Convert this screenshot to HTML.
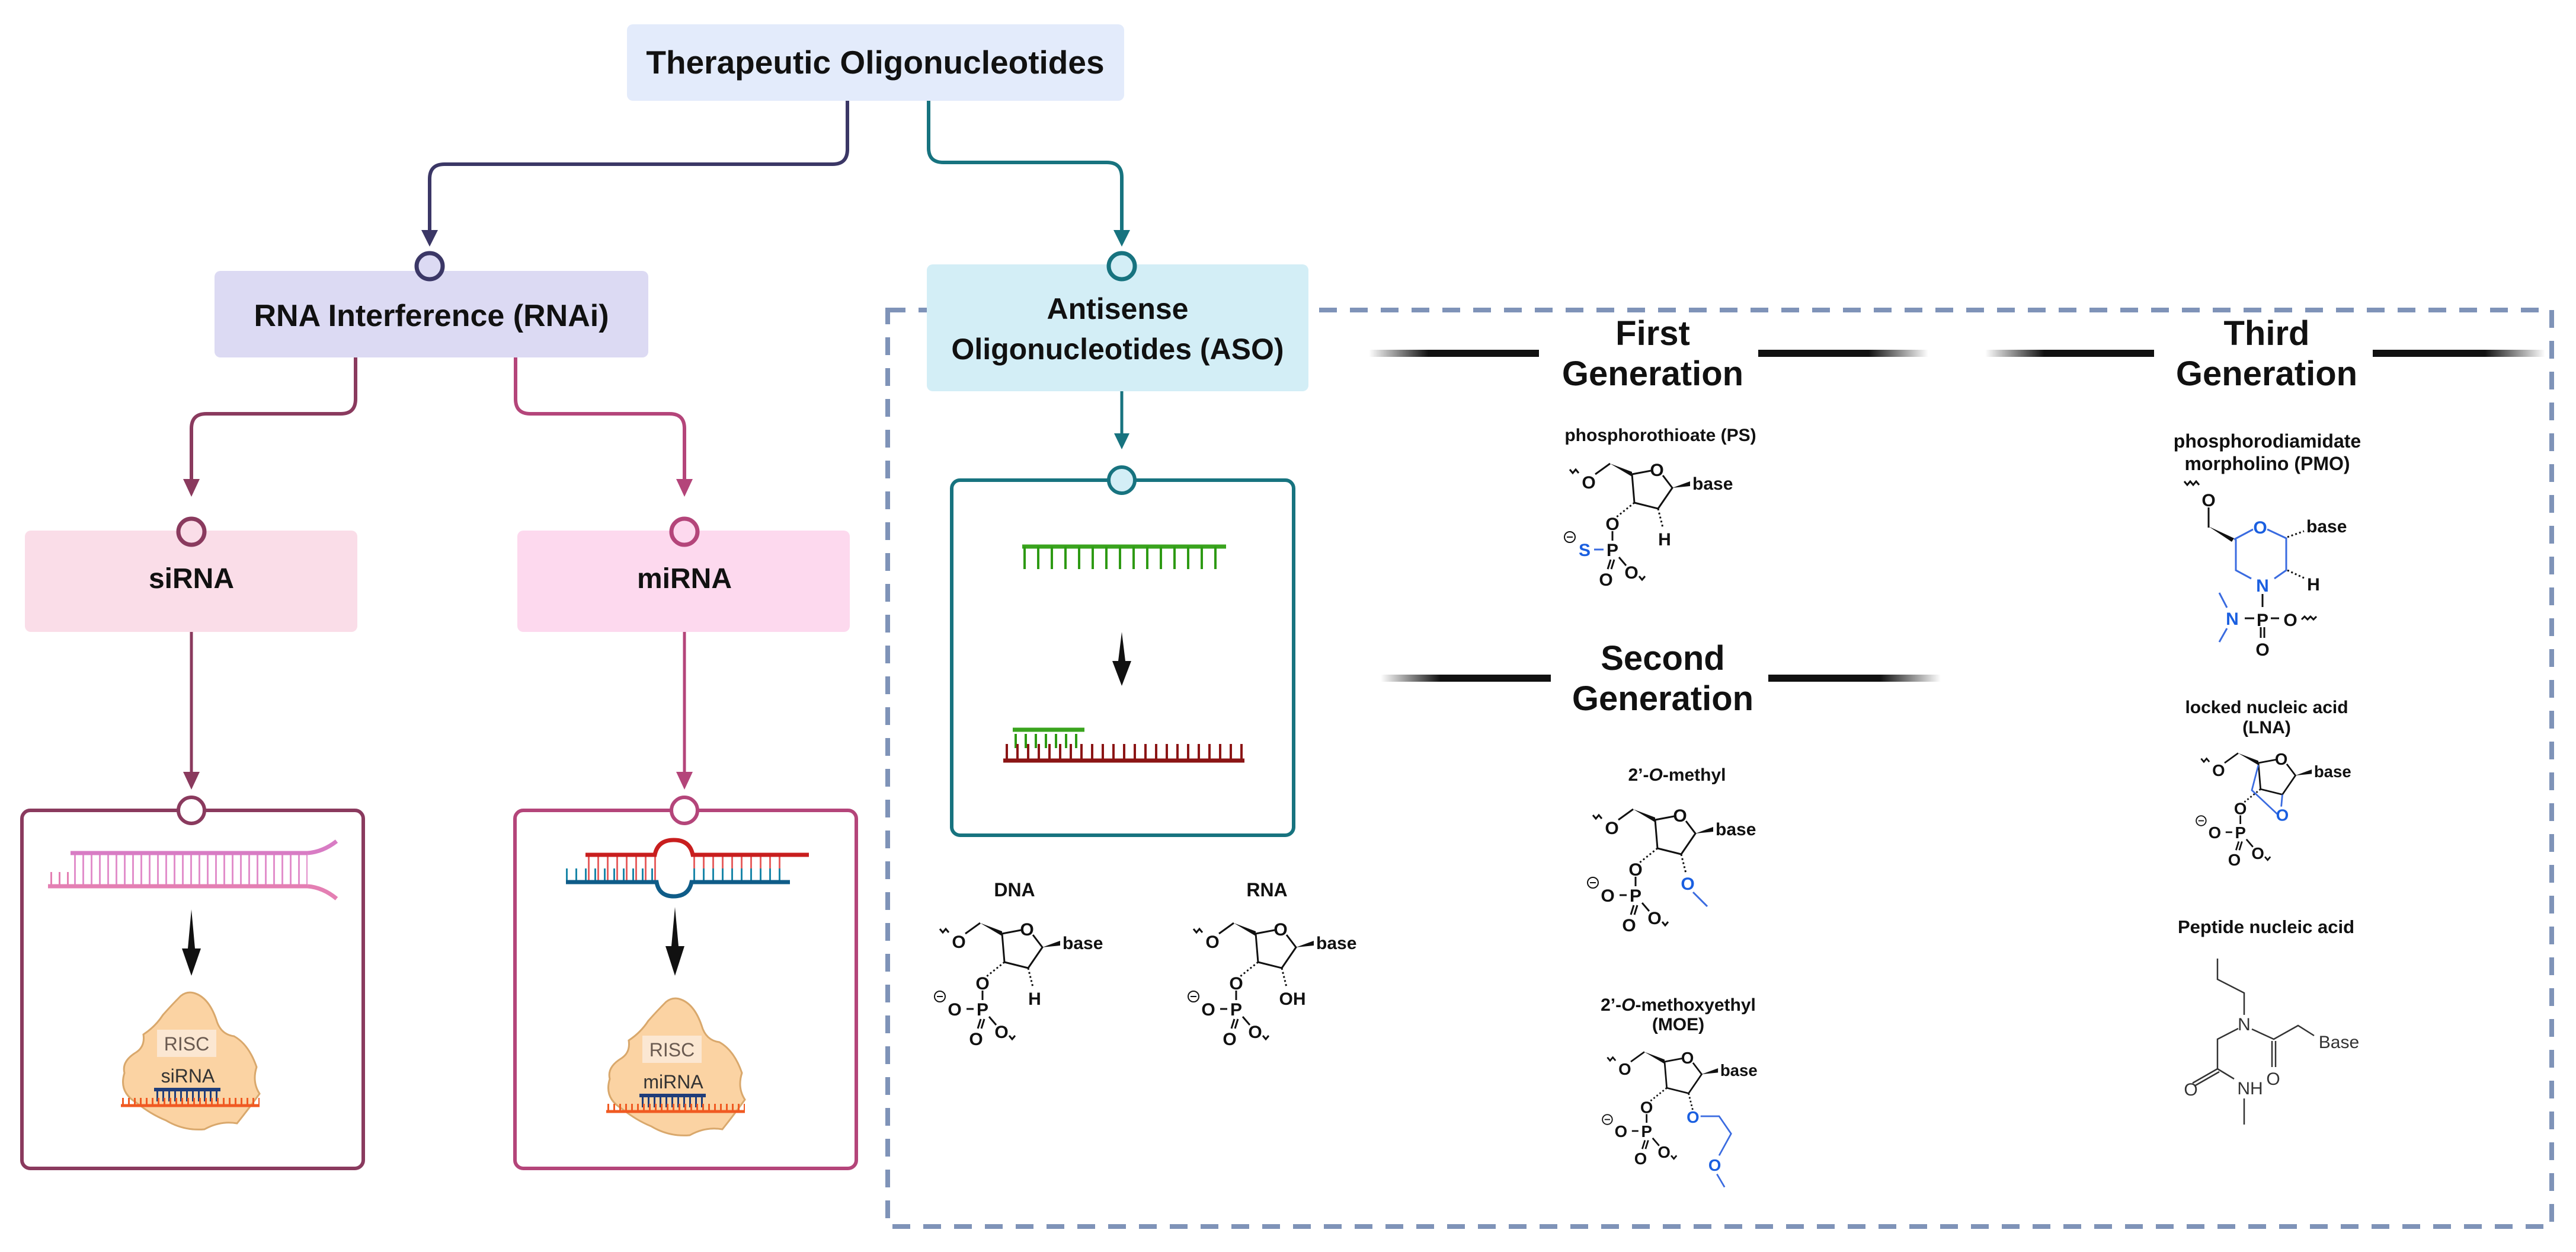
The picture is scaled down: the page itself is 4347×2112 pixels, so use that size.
<!DOCTYPE html>
<html><head><meta charset="utf-8"><style>
html,body{margin:0;padding:0;background:#fff;}
svg{display:block;}
text{font-family:"Liberation Sans",sans-serif;}
.t{font-weight:bold;fill:#111;}
.at{font-weight:bold;font-size:30px;fill:#111;text-anchor:middle;}
.bl{fill:#1a5fe0;}
.bd{stroke:#111;stroke-width:3;fill:none;}
.bb{stroke:#3a6be0;stroke-width:3;fill:none;}
</style></head><body>
<svg width="4347" height="2112" viewBox="0 0 4347 2112" xmlns="http://www.w3.org/2000/svg">
<defs>
<linearGradient id="gl" x1="0" x2="1" y1="0" y2="0"><stop offset="0" stop-color="#111" stop-opacity="0"/><stop offset="0.35" stop-color="#111"/><stop offset="1" stop-color="#111"/></linearGradient>
<linearGradient id="gr" x1="0" x2="1" y1="0" y2="0"><stop offset="0" stop-color="#111"/><stop offset="0.65" stop-color="#111"/><stop offset="1" stop-color="#111" stop-opacity="0"/></linearGradient>
</defs>

<rect x="1498" y="523" width="2808" height="1546" fill="none" stroke="#7f93b8" stroke-width="8" stroke-dasharray="30 22"/>

<rect x="1058" y="41" width="839" height="129" rx="10" fill="#e3ebfb"/>
<text x="1477" y="124" class="t" font-size="55" text-anchor="middle">Therapeutic Oligonucleotides</text>

<path d="M1430 170 V252 Q1430 277 1405 277 H750 Q725 277 725 302 V392" stroke="#3b3766" stroke-width="6" fill="none"/>
<polygon points="711,388 739,388 725,416" fill="#3b3766"/>
<path d="M1567 170 V250 Q1567 274 1592 274 H1868 Q1893 274 1893 299 V392" stroke="#17737f" stroke-width="6" fill="none"/>
<polygon points="1879,388 1907,388 1893,416" fill="#17737f"/>

<rect x="362" y="457" width="732" height="146" rx="10" fill="#dcdaf3"/>
<circle cx="725" cy="449" r="22" fill="#dcdaf3" stroke="#3b3766" stroke-width="7"/>
<text x="728" y="550" class="t" font-size="52" text-anchor="middle">RNA Interference (RNAi)</text>

<rect x="1564" y="446" width="644" height="214" rx="10" fill="#d3eef6"/>
<circle cx="1893" cy="449" r="22" fill="#d3eef6" stroke="#17737f" stroke-width="7"/>
<text x="1886" y="538" class="t" font-size="50" text-anchor="middle">Antisense</text>
<text x="1886" y="606" class="t" font-size="50" text-anchor="middle">Oligonucleotides (ASO)</text>

<path d="M600 603 V673 Q600 698 575 698 H348 Q323 698 323 723 V812" stroke="#8a3a5e" stroke-width="6" fill="none"/>
<polygon points="309,808 337,808 323,838" fill="#8a3a5e"/>
<path d="M870 603 V673 Q870 698 895 698 H1130 Q1155 698 1155 723 V812" stroke="#b4457a" stroke-width="6" fill="none"/>
<polygon points="1141,808 1169,808 1155,838" fill="#b4457a"/>

<rect x="42" y="895" width="561" height="171" rx="10" fill="#fadde8"/>
<circle cx="323" cy="897" r="22" fill="#fadde8" stroke="#8a3a5e" stroke-width="7"/>
<text x="323" y="992" class="t" font-size="48" text-anchor="middle">siRNA</text>
<rect x="873" y="895" width="561" height="171" rx="10" fill="#fdd9ee"/>
<circle cx="1155" cy="897" r="22" fill="#fdd9ee" stroke="#b4457a" stroke-width="7"/>
<text x="1155" y="992" class="t" font-size="48" text-anchor="middle">miRNA</text>

<line x1="323" y1="1066" x2="323" y2="1306" stroke="#8a3a5e" stroke-width="5"/>
<polygon points="309,1302 337,1302 323,1332" fill="#8a3a5e"/>
<line x1="1155" y1="1066" x2="1155" y2="1306" stroke="#b4457a" stroke-width="5"/>
<polygon points="1141,1302 1169,1302 1155,1332" fill="#b4457a"/>

<rect x="37" y="1367" width="576" height="604" rx="14" fill="#fff" stroke="#8a3a5e" stroke-width="6"/>
<circle cx="323" cy="1367" r="22" fill="#fff" stroke="#8a3a5e" stroke-width="6"/>
<rect x="869" y="1367" width="576" height="604" rx="14" fill="#fff" stroke="#b4457a" stroke-width="6"/>
<circle cx="1155" cy="1367" r="22" fill="#fff" stroke="#b4457a" stroke-width="6"/>

<line x1="125" y1="1467" x2="519" y2="1467" stroke="#e28fcb" stroke-width="54" stroke-dasharray="3 11"/>
<line x1="119" y1="1439" x2="519" y2="1439" stroke="#d87cc4" stroke-width="7"/>
<line x1="81" y1="1495" x2="519" y2="1495" stroke="#e47fb3" stroke-width="7"/>
<path d="M519 1439 Q545 1437 568 1419" stroke="#d87cc4" stroke-width="7" fill="none"/>
<path d="M519 1495 Q545 1497 568 1516" stroke="#e47fb3" stroke-width="7" fill="none"/>
<line x1="85" y1="1483" x2="119" y2="1483" stroke="#e47fb3" stroke-width="24" stroke-dasharray="3 11"/>
<polygon points="323,1534 329,1600 339,1600 323,1646 307,1600 317,1600" fill="#111"/>
<path d="M327 1675 Q352 1682 365 1720 Q372 1745 395 1748 Q420 1762 433 1800 Q425 1825 438 1845 Q420 1870 400 1895 Q372 1890 345 1905 Q310 1908 280 1890 Q255 1880 230 1860 Q200 1842 210 1810 Q205 1790 230 1775 Q245 1765 242 1745 Q262 1732 275 1712 Q290 1695 305 1680 Q315 1672 327 1675 Z" fill="#fbd3a3" stroke="#d9a86c" stroke-width="3"/>
<rect x="265" y="1737" width="100" height="46" fill="#fbe7d2"/>
<text x="315" y="1772" font-size="32" fill="#6a5a50" text-anchor="middle">RISC</text>
<text x="317" y="1826" font-size="32" fill="#333" text-anchor="middle">siRNA</text>
<line x1="260" y1="1838" x2="372" y2="1838" stroke="#1f3d7a" stroke-width="6"/>
<line x1="264" y1="1849" x2="372" y2="1849" stroke="#1f3d7a" stroke-width="18" stroke-dasharray="3 7"/>
<line x1="206" y1="1858" x2="438" y2="1858" stroke="#f05a22" stroke-width="12" stroke-dasharray="3 7"/>
<line x1="204" y1="1865" x2="438" y2="1865" stroke="#f05a22" stroke-width="5"/>

<line x1="992" y1="1465" x2="1107" y2="1465" stroke="#e66060" stroke-width="44" stroke-dasharray="3 13"/>
<line x1="1170" y1="1465" x2="1330" y2="1465" stroke="#e66060" stroke-width="44" stroke-dasharray="3 13"/>
<line x1="955" y1="1476" x2="1107" y2="1476" stroke="#1a86a8" stroke-width="22" stroke-dasharray="3 13"/>
<line x1="1170" y1="1476" x2="1330" y2="1476" stroke="#1a86a8" stroke-width="22" stroke-dasharray="3 13"/>
<path d="M988 1442 H1105 Q1110 1417 1137 1417 Q1164 1417 1169 1442 H1365" stroke="#c81e1e" stroke-width="7" fill="none"/>
<path d="M955 1488 H1108 Q1112 1512 1137 1512 Q1162 1512 1167 1488 H1333" stroke="#0f5c88" stroke-width="7" fill="none"/>
<polygon points="1139,1530 1145,1596 1155,1596 1139,1646 1123,1596 1133,1596" fill="#111"/>
<g transform="translate(819,10)">
<path d="M327 1675 Q352 1682 365 1720 Q372 1745 395 1748 Q420 1762 433 1800 Q425 1825 438 1845 Q420 1870 400 1895 Q372 1890 345 1905 Q310 1908 280 1890 Q255 1880 230 1860 Q200 1842 210 1810 Q205 1790 230 1775 Q245 1765 242 1745 Q262 1732 275 1712 Q290 1695 305 1680 Q315 1672 327 1675 Z" fill="#fbd3a3" stroke="#d9a86c" stroke-width="3"/>
<rect x="265" y="1737" width="100" height="46" fill="#fbe7d2"/>
<text x="315" y="1772" font-size="32" fill="#6a5a50" text-anchor="middle">RISC</text>
<text x="317" y="1826" font-size="32" fill="#333" text-anchor="middle">miRNA</text>
<line x1="260" y1="1838" x2="372" y2="1838" stroke="#1f3d7a" stroke-width="6"/>
<line x1="264" y1="1849" x2="372" y2="1849" stroke="#1f3d7a" stroke-width="18" stroke-dasharray="3 7"/>
<line x1="206" y1="1858" x2="438" y2="1858" stroke="#f05a22" stroke-width="12" stroke-dasharray="3 7"/>
<line x1="204" y1="1865" x2="438" y2="1865" stroke="#f05a22" stroke-width="5"/>
</g>

<line x1="1893" y1="660" x2="1893" y2="735" stroke="#17737f" stroke-width="5"/>
<polygon points="1880,731 1906,731 1893,758" fill="#17737f"/>
<rect x="1606" y="810" width="577" height="599" rx="14" fill="#fff" stroke="#17737f" stroke-width="6"/>
<circle cx="1893" cy="810" r="22" fill="#d3eef6" stroke="#17737f" stroke-width="6"/>
<line x1="1725" y1="922" x2="2069" y2="922" stroke="#3aa41e" stroke-width="7"/>
<line x1="1727" y1="941" x2="2069" y2="941" stroke="#2e9a14" stroke-width="38" stroke-dasharray="4 19"/>
<polygon points="1893,1066 1899,1115 1909,1115 1893,1157 1877,1115 1887,1115" fill="#111"/>
<line x1="1709" y1="1231" x2="1830" y2="1231" stroke="#3aa41e" stroke-width="7"/>
<line x1="1712" y1="1250" x2="1830" y2="1250" stroke="#2e9a14" stroke-width="24" stroke-dasharray="4 13"/>
<line x1="1697" y1="1268" x2="2100" y2="1268" stroke="#8b1515" stroke-width="26" stroke-dasharray="4 14"/>
<line x1="1693" y1="1283" x2="2100" y2="1283" stroke="#8b1515" stroke-width="7"/>

<text x="1712" y="1512" class="t" font-size="32" text-anchor="middle">DNA</text>
<text x="2138" y="1512" class="t" font-size="32" text-anchor="middle">RNA</text>

<g transform="translate(1691,1575)">
<path class="bd" d="M-105 -8 l5 6 l5 -6 l5 6 M-62 0 L-37 -18 M0 0 L32 -6 M52 2 L68 23 L44 58 L4 48 L0 0 M-33 96 V112 M-60 127 H-48 M-36 144 L-41 160 M-30 144 L-35 160 M-22 140 L-10 154 M12 172 l5 6 l5 -6"/>
<polygon points="-37,-18 0,-4 0,4" fill="#111"/><polygon points="68,23 98,12 98,20" fill="#111"/>
<path class="bd" stroke-dasharray="3 4" d="M4 48 L-26 72 M44 58 L52 90"/>
<text class="at" x="-73" y="24">O</text><text class="at" x="42" y="3">O</text><text x="102" y="26" font-size="30" font-weight="bold" fill="#111">base</text>
<text class="at" x="-33" y="94">O</text><text class="at" x="-33" y="138">P</text><text class="at" x="-80" y="138">O</text>
<text class="at" x="-44" y="188">O</text><text class="at" x="-1" y="176">O</text><text class="at" x="55" y="120">H</text>
<circle cx="-105" cy="106" r="9" fill="none" stroke="#111" stroke-width="2"/><line x1="-110" y1="106" x2="-100" y2="106" stroke="#111" stroke-width="2"/>
</g>
<g transform="translate(2119,1575)">
<path class="bd" d="M-105 -8 l5 6 l5 -6 l5 6 M-62 0 L-37 -18 M0 0 L32 -6 M52 2 L68 23 L44 58 L4 48 L0 0 M-33 96 V112 M-60 127 H-48 M-36 144 L-41 160 M-30 144 L-35 160 M-22 140 L-10 154 M12 172 l5 6 l5 -6"/>
<polygon points="-37,-18 0,-4 0,4" fill="#111"/><polygon points="68,23 98,12 98,20" fill="#111"/>
<path class="bd" stroke-dasharray="3 4" d="M4 48 L-26 72 M44 58 L52 90"/>
<text class="at" x="-73" y="24">O</text><text class="at" x="42" y="3">O</text><text x="102" y="26" font-size="30" font-weight="bold" fill="#111">base</text>
<text class="at" x="-33" y="94">O</text><text class="at" x="-33" y="138">P</text><text class="at" x="-80" y="138">O</text>
<text class="at" x="-44" y="188">O</text><text class="at" x="-1" y="176">O</text><text class="at" x="62" y="120">OH</text>
<circle cx="-105" cy="106" r="9" fill="none" stroke="#111" stroke-width="2"/><line x1="-110" y1="106" x2="-100" y2="106" stroke="#111" stroke-width="2"/>
</g>

<rect x="2310" y="590" width="287" height="12" fill="url(#gl)"/>
<rect x="2967" y="590" width="287" height="12" fill="url(#gr)"/>
<text x="2789" y="582" class="t" font-size="58" text-anchor="middle">First</text>
<text x="2789" y="650" class="t" font-size="58" text-anchor="middle">Generation</text>
<rect x="3350" y="590" width="285" height="12" fill="url(#gl)"/>
<rect x="4004" y="590" width="291" height="12" fill="url(#gr)"/>
<text x="3825" y="582" class="t" font-size="58" text-anchor="middle">Third</text>
<text x="3825" y="650" class="t" font-size="58" text-anchor="middle">Generation</text>
<rect x="2330" y="1138" width="287" height="12" fill="url(#gl)"/>
<rect x="2984" y="1138" width="291" height="12" fill="url(#gr)"/>
<text x="2806" y="1130" class="t" font-size="58" text-anchor="middle">Second</text>
<text x="2806" y="1198" class="t" font-size="58" text-anchor="middle">Generation</text>

<text x="2802" y="744" class="t" font-size="30" text-anchor="middle">phosphorothioate (PS)</text>
<g transform="translate(2754,800)">
<path class="bd" d="M-105 -8 l5 6 l5 -6 l5 6 M-62 0 L-37 -18 M0 0 L32 -6 M52 2 L68 23 L44 58 L4 48 L0 0 M-33 96 V112 M-36 144 L-41 160 M-30 144 L-35 160 M-22 140 L-10 154 M12 172 l5 6 l5 -6"/>
<line x1="-64" y1="127" x2="-48" y2="127" stroke="#3a6be0" stroke-width="3"/>
<polygon points="-37,-18 0,-4 0,4" fill="#111"/><polygon points="68,23 98,12 98,20" fill="#111"/>
<path class="bd" stroke-dasharray="3 4" d="M4 48 L-26 72 M44 58 L52 90"/>
<text class="at" x="-73" y="24">O</text><text class="at" x="42" y="3">O</text><text x="102" y="26" font-size="30" font-weight="bold" fill="#111">base</text>
<text class="at" x="-33" y="94">O</text><text class="at" x="-33" y="138">P</text><text class="at bl" x="-80" y="138">S</text>
<text class="at" x="-44" y="188">O</text><text class="at" x="-1" y="176">O</text><text class="at" x="55" y="120">H</text>
<circle cx="-105" cy="106" r="9" fill="none" stroke="#111" stroke-width="2"/><line x1="-110" y1="106" x2="-100" y2="106" stroke="#111" stroke-width="2"/>
</g>

<text x="2830" y="1317" class="t" font-size="30" text-anchor="middle">2’-<tspan font-style="italic">O</tspan>-methyl</text>
<g transform="translate(2793,1383)">
<path class="bd" d="M-105 -8 l5 6 l5 -6 l5 6 M-62 0 L-37 -18 M0 0 L32 -6 M52 2 L68 23 L44 58 L4 48 L0 0 M-33 96 V112 M-60 127 H-48 M-36 144 L-41 160 M-30 144 L-35 160 M-22 140 L-10 154 M12 172 l5 6 l5 -6"/>
<polygon points="-37,-18 0,-4 0,4" fill="#111"/><polygon points="68,23 98,12 98,20" fill="#111"/>
<path class="bd" stroke-dasharray="3 4" d="M4 48 L-26 72 M44 58 L52 90"/>
<path class="bb" d="M64 122 L88 146"/>
<text class="at" x="-73" y="24">O</text><text class="at" x="42" y="3">O</text><text x="102" y="26" font-size="30" font-weight="bold" fill="#111">base</text>
<text class="at" x="-33" y="94">O</text><text class="at" x="-33" y="138">P</text><text class="at" x="-80" y="138">O</text>
<text class="at" x="-44" y="188">O</text><text class="at" x="-1" y="176">O</text><text class="at bl" x="55" y="118">O</text>
<circle cx="-105" cy="106" r="9" fill="none" stroke="#111" stroke-width="2"/><line x1="-110" y1="106" x2="-100" y2="106" stroke="#111" stroke-width="2"/>
</g>

<text x="2832" y="1705" class="t" font-size="30" text-anchor="middle">2’-<tspan font-style="italic">O</tspan>-methoxyethyl</text>
<text x="2832" y="1738" class="t" font-size="30" text-anchor="middle">(MOE)</text>
<g transform="translate(2809,1791) scale(0.92)">
<path class="bd" d="M-105 -8 l5 6 l5 -6 l5 6 M-62 0 L-37 -18 M0 0 L32 -6 M52 2 L68 23 L44 58 L4 48 L0 0 M-33 96 V112 M-60 127 H-48 M-36 144 L-41 160 M-30 144 L-35 160 M-22 140 L-10 154 M12 172 l5 6 l5 -6"/>
<polygon points="-37,-18 0,-4 0,4" fill="#111"/><polygon points="68,23 98,12 98,20" fill="#111"/>
<path class="bd" stroke-dasharray="3 4" d="M4 48 L-26 72 M44 58 L52 90"/>
<path class="bb" d="M66 100 L100 100 L122 132 L100 172 M96 206 L110 230"/>
<text class="at" x="-73" y="24">O</text><text class="at" x="42" y="3">O</text><text x="102" y="26" font-size="30" font-weight="bold" fill="#111">base</text>
<text class="at" x="-33" y="94">O</text><text class="at" x="-33" y="138">P</text><text class="at" x="-80" y="138">O</text>
<text class="at" x="-44" y="188">O</text><text class="at" x="-1" y="176">O</text><text class="at bl" x="52" y="112">O</text><text class="at bl" x="92" y="200">O</text>
<circle cx="-105" cy="106" r="9" fill="none" stroke="#111" stroke-width="2"/><line x1="-110" y1="106" x2="-100" y2="106" stroke="#111" stroke-width="2"/>
</g>

<text x="3826" y="755" class="t" font-size="32" text-anchor="middle">phosphorodiamidate</text>
<text x="3826" y="793" class="t" font-size="32" text-anchor="middle">morpholino (PMO)</text>
<g>
<path class="bd" d="M3686 812 l5 6 l5 -6 l5 6 l5 -6 l5 6 M3727 856 V890"/>
<polygon points="3727,888 3770,908 3766,914" fill="#111"/>
<path class="bb" d="M3770 910 L3802 893 M3826 893 L3858 908 V962 L3838 976 M3799 976 L3773 962 V910"/>
<path class="bd" stroke-dasharray="3 4" d="M3860 906 L3888 896 M3860 962 L3888 975"/>
<path class="bd" d="M3818 1002 V1024 M3788 1043 H3804 M3832 1043 H3846 M3815 1058 V1076 M3821 1058 V1076 M3884 1045 l5 -5 l5 5 l5 -5 l5 5 l5 -5"/>
<path class="bb" d="M3745 1000 L3758 1025 M3758 1060 L3745 1083"/>
<text class="at" x="3727" y="854">O</text>
<text class="at bl" x="3814" y="900">O</text>
<text x="3892" y="898" font-size="30" font-weight="bold" fill="#111">base</text>
<text class="at bl" x="3818" y="998">N</text>
<text class="at" x="3904" y="996">H</text>
<text class="at" x="3818" y="1056">P</text>
<text class="at bl" x="3767" y="1054">N</text>
<text class="at" x="3865" y="1056">O</text>
<text class="at" x="3818" y="1106">O</text>
</g>

<text x="3825" y="1203" class="t" font-size="30" text-anchor="middle">locked nucleic acid</text>
<text x="3825" y="1237" class="t" font-size="30" text-anchor="middle">(LNA)</text>
<g transform="translate(3811,1287) scale(0.92)">
<path class="bd" d="M-105 -8 l5 6 l5 -6 l5 6 M-62 0 L-37 -18 M0 0 L32 -6 M52 2 L68 23 L44 58 L4 48 L0 0 M-33 96 V112 M-60 127 H-48 M-36 144 L-41 160 M-30 144 L-35 160 M-22 140 L-10 154 M12 172 l5 6 l5 -6"/>
<polygon points="-37,-18 0,-4 0,4" fill="#111"/><polygon points="68,23 98,12 98,20" fill="#111"/>
<path class="bd" stroke-dasharray="3 4" d="M4 48 L-26 72"/>
<path class="bb" d="M0 4 L-12 50 L36 95 M44 58 L42 80"/>
<text class="at" x="-73" y="24">O</text><text class="at" x="42" y="3">O</text><text x="102" y="26" font-size="30" font-weight="bold" fill="#111">base</text>
<text class="at" x="-33" y="94">O</text><text class="at" x="-33" y="138">P</text><text class="at" x="-80" y="138">O</text>
<text class="at" x="-44" y="188">O</text><text class="at" x="-1" y="176">O</text><text class="at bl" x="44" y="106">O</text>
<circle cx="-105" cy="106" r="9" fill="none" stroke="#111" stroke-width="2"/><line x1="-110" y1="106" x2="-100" y2="106" stroke="#111" stroke-width="2"/>
</g>

<text x="3824" y="1574" class="t" font-size="31" text-anchor="middle" fill="#222">Peptide nucleic acid</text>
<g stroke="#333" stroke-width="2.5" fill="none">
<path d="M3742 1617 V1652 L3787 1675 V1712"/>
<path d="M3777 1735 L3742 1753 V1803 L3700 1827 M3745 1808 L3703 1832"/>
<path d="M3742 1803 L3770 1820"/>
<path d="M3787 1853 V1897"/>
<path d="M3800 1736 L3837 1753 L3878 1730 L3905 1747"/>
<path d="M3834 1756 V1800 M3840 1756 V1800"/>
</g>
<g font-size="30" fill="#333" text-anchor="middle">
<text x="3787" y="1738">N</text>
<text x="3697" y="1848">O</text>
<text x="3797" y="1846">NH</text>
<text x="3836" y="1830">O</text>
<text x="3947" y="1768">Base</text>
</g>
</svg>
</body></html>
